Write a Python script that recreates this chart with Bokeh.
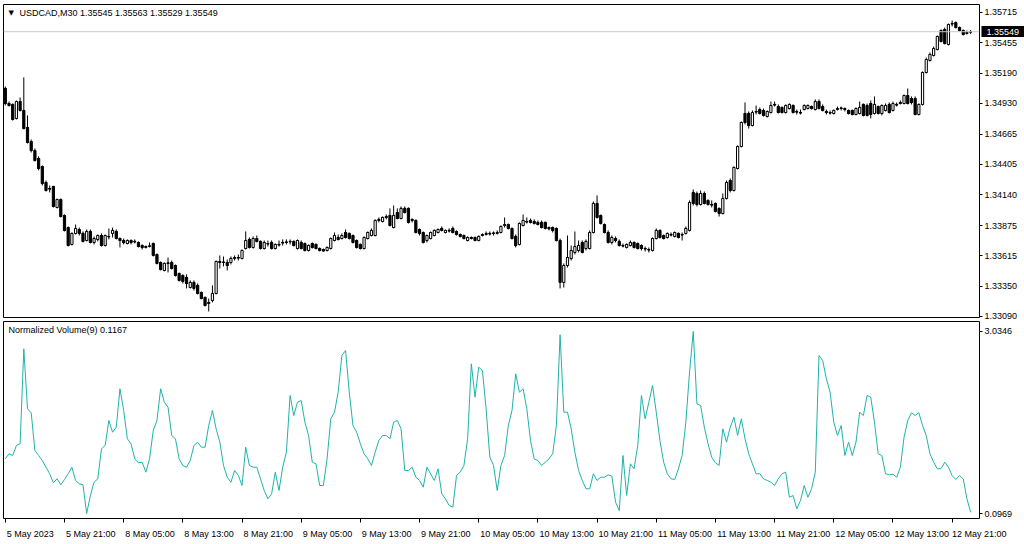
from bokeh.plotting import figure
from bokeh.models import (ColumnDataSource, Range1d, FixedTicker, PrintfTickFormatter, Span, Label,
                          LinearAxis, CustomJSTickFormatter)
from bokeh.layouts import column
from bokeh.embed import file_html
from bokeh.resources import INLINE

# USDCAD M30 candles, prices in units of 0.00001
open_pts = [135059,134929,134921,134800,134946,134869,134722,134601,134523,134454,
134385,134247,134195,134213,134031,134100,133962,133858,133712,133807,
133841,133807,133746,133824,133729,133755,133789,133703,133781,133807,
133824,133763,133746,133720,133746,133738,133729,133703,133686,133694,
133720,133625,133556,133487,133548,133556,133530,133461,133444,133427,
133340,133384,133358,133297,133254,133202,133228,133289,133565,133556,
133556,133556,133591,133599,133591,133677,133755,133686,133763,133738,
133677,133720,133729,133677,133712,133729,133729,133738,133738,133677,
133729,133720,133660,133720,133712,133677,133668,133660,133677,133746,
133772,133763,133815,133807,133789,133746,133712,133677,133763,133789,
133789,133919,133910,133945,133962,133858,133988,133936,134023,134023,
133928,133919,133841,133815,133746,133763,133789,133815,133850,133815,
133833,133850,133824,133798,133789,133746,133772,133772,133746,133789,
133798,133807,133807,133807,133815,133876,133884,133850,133781,133712,
133876,133910,133919,133910,133902,133902,133902,133858,133858,133850,
133746,133384,133530,133591,133643,133660,133729,133677,133677,133815,
134066,133962,133884,133815,133729,133763,133738,133703,133686,
133703,133729,133720,133703,133677,133668,133660,133763,133833,133789,
133772,133798,133781,133807,133798,133807,133833,134161,134152,134057,
134152,134092,134057,134066,134023,133979,134109,134264,134178,134368,
134558,134843,134843,134739,134860,134877,134869,134817,134851,134921,
134903,134895,134851,134886,134912,134860,134851,134877,134886,134903,
134877,134946,134903,134860,134851,134843,134877,134886,134886,
134869,134869,134834,134843,134921,134912,134929,134843,134903,134843,
134869,134921,134869,134921,134929,134929,134998,134972,134972,134834,
134921,135197,135301,135344,135396,135560,135568,135439,135620,135629,
135585,135560,135534,135545]

high_pts = [135076,134946,134929,134955,134981,135154,134826,134618,134541,134472,
134394,134264,134221,134213,134109,134109,133971,133867,133815,133884,
133858,133824,133841,133841,133781,133798,133807,133798,133850,133858,
133841,133772,133763,133755,133755,133755,133738,133712,133703,133729,
133729,133634,133565,133556,133599,133573,133539,133470,133453,133453,
133401,133401,133375,133306,133263,133245,133358,133573,133617,133608,
133582,133608,133617,133625,133668,133824,133772,133781,133789,133746,
133746,133746,133746,133720,133746,133755,133755,133755,133746,133755,
133746,133729,133712,133729,133720,133686,133677,133694,133772,133815,
133798,133807,133841,133815,133798,133755,133720,133781,133824,133850,
133928,133945,133953,133971,134023,134048,134023,134040,134040,134031,
133936,133928,133850,133824,133798,133824,133841,133850,133867,133841,
133850,133867,133833,133807,133798,133781,133781,133781,133789,133807,
133824,133824,133824,133833,133876,133945,133893,133858,133798,133902,
133971,133945,133936,133928,133919,133919,133910,133867,133867,133858,
133763,133548,133789,133703,133824,133746,133746,133755,133833,134083,
134135,133971,133893,133833,133789,133781,133755,133720,133720,
133746,133738,133729,133712,133694,133686,133772,133850,133841,133798,
133815,133815,133824,133815,133815,133867,134092,134187,134169,134178,
134169,134100,134092,134074,134031,134152,134264,134282,134385,134567,
134774,134938,134860,134869,134912,134895,134886,134869,134946,134946,
134921,134903,134921,134929,134921,134877,134877,134921,134921,134912,
134964,134964,134921,134877,134869,134877,134903,134903,134895,
134877,134877,134895,134946,134929,134929,134955,134990,134912,134921,
134929,134938,134946,134938,134955,135007,135059,134990,134990,134929,
135206,135326,135370,135421,135516,135568,135585,135620,135646,135637,
135594,135568,135560,135563]

low_pts = [134912,134903,134782,134791,134860,134705,134584,134506,134428,134351,
134221,134169,134161,134031,134023,133945,133824,133694,133703,133798,
133789,133729,133738,133720,133712,133738,133694,133694,133755,133772,
133755,133686,133712,133712,133712,133720,133686,133668,133677,133686,
133608,133539,133487,133479,133470,133496,133435,133392,133375,133332,
133332,133314,133280,133237,133176,133133,133211,133280,133504,133522,
133487,133539,133573,133573,133582,133668,133677,133677,133729,133668,
133668,133694,133668,133668,133694,133703,133712,133712,133694,133668,
133668,133651,133651,133677,133668,133651,133651,133651,133668,133738,
133746,133755,133763,133755,133720,133677,133668,133668,133755,133781,
133781,133902,133902,133928,133867,133850,133928,133928,133979,133893,
133902,133807,133789,133720,133729,133755,133781,133807,133824,133807,
133815,133807,133789,133772,133755,133738,133755,133738,133738,133781,
133789,133789,133789,133798,133807,133858,133841,133755,133686,133703,
133867,133893,133893,133884,133876,133850,133841,133833,133815,133738,
133332,133340,133513,133573,133625,133643,133634,133660,133668,133807,
133936,133884,133807,133720,133712,133729,133694,133686,133677,
133694,133677,133668,133660,133651,133643,133651,133755,133763,133755,
133763,133781,133772,133763,133746,133798,133824,134048,134040,134048,
134057,134048,134031,133988,133953,133971,134100,134161,134169,134359,
134549,134748,134713,134731,134834,134834,134817,134808,134843,134903,
134843,134843,134843,134877,134843,134834,134834,134869,134877,134877,
134869,134877,134860,134834,134834,134834,134869,134869,134860,
134834,134826,134826,134834,134817,134817,134800,134834,134834,134826,
134860,134843,134860,134903,134921,134921,134921,134921,134826,134826,
134912,135188,135292,135335,135387,135456,135439,135430,135594,135577,
135551,135516,135525,135529]

close_pts = [134929,134912,134791,134946,134869,134713,134592,134523,134437,134368,
134238,134178,134190,134040,134100,133953,133833,133703,133807,133850,
133807,133738,133824,133729,133763,133789,133703,133789,133778,133833,
133763,133746,133729,133746,133729,133735,133694,133686,133694,133700,
133617,133548,133496,133548,133552,133504,133444,133401,133392,133375,
133384,133332,133289,133245,133185,133211,133289,133565,133556,133560,
133530,133591,133599,133595,133660,133746,133686,133763,133738,133677,
133729,133716,133677,133712,133708,133725,133733,133735,133703,133746,
133677,133660,133703,133686,133677,133660,133656,133686,133763,133789,
133755,133789,133772,133763,133729,133686,133677,133772,133815,133833,
133919,133928,133945,133953,133876,133962,133936,134023,133988,133902,
133919,133815,133807,133729,133789,133815,133833,133841,133833,133833,
133829,133815,133798,133781,133763,133772,133763,133746,133781,133798,
133807,133803,133810,133815,133867,133884,133850,133763,133703,133893,
133919,133906,133902,133893,133884,133858,133850,133848,133833,133746,
133384,133530,133599,133660,133694,133703,133643,133738,133815,134066,
133945,133893,133815,133729,133772,133746,133703,133699,133712,
133729,133686,133677,133677,133673,133664,133763,133833,133772,133763,
133807,133794,133815,133772,133794,133850,134074,134066,134057,134152,
134066,134057,134053,133997,133979,134109,134247,134178,134377,134558,
134765,134765,134739,134851,134856,134843,134826,134860,134912,134916,
134851,134851,134912,134921,134851,134855,134847,134912,134912,134886,
134946,134886,134869,134851,134847,134869,134886,134890,134877,
134843,134834,134886,134895,134826,134826,134834,134921,134843,134912,
134912,134851,134929,134916,134938,134998,134929,134938,134834,134921,
135197,135309,135352,135404,135508,135465,135447,135611,135616,135585,
135560,135525,135542,135549]

# Normalized Volume(9)
norm_volume = [0.980,1.061,1.033,1.195,1.222,2.755,1.787,1.722,1.114,1.033,
0.952,0.844,0.738,0.592,0.657,0.560,0.646,0.738,0.844,0.630,
0.576,0.560,0.0969,0.387,0.602,0.657,1.141,1.195,1.598,1.409,
1.490,2.110,1.760,1.303,1.222,0.980,0.915,0.925,0.764,0.980,
1.437,1.598,2.110,1.893,1.813,1.356,1.303,0.980,0.872,0.844,
0.952,1.195,1.248,1.167,1.167,1.517,1.760,1.464,1.248,0.872,
0.683,0.602,0.791,0.710,0.549,1.167,0.872,0.844,0.844,0.657,
0.468,0.334,0.415,0.764,0.468,0.844,1.086,2.002,1.679,1.893,
1.921,1.571,1.356,0.925,0.899,0.549,0.549,0.980,1.625,1.732,
2.055,2.647,2.728,2.055,1.517,1.409,1.222,1.061,0.980,0.872,
1.086,1.275,1.356,1.356,1.303,1.571,1.598,1.464,0.791,0.791,
0.844,0.683,0.630,0.521,0.844,0.738,0.630,0.818,0.415,0.334,
0.226,0.199,0.710,0.764,0.872,1.303,2.513,1.974,2.458,2.405,
1.787,1.006,0.872,0.468,0.872,1.033,1.517,1.760,2.352,2.055,
2.110,1.787,1.275,0.980,0.952,0.872,0.925,0.980,1.061,1.517,
2.981,1.732,1.732,1.464,1.086,0.791,0.630,0.496,0.496,0.738,
0.630,0.683,0.683,0.720,0.700,0.279,0.145,1.033,0.387,
0.899,0.818,1.195,2.002,1.625,1.893,2.163,1.732,1.275,0.925,
0.738,0.657,0.646,0.818,1.033,1.571,2.378,3.0346,1.868,1.840,
1.490,1.222,1.006,0.915,0.872,1.464,1.248,1.490,1.651,1.356,
1.625,1.303,1.061,0.899,0.738,0.740,0.657,0.630,0.602,0.549,
0.657,0.738,0.764,0.360,0.387,0.173,0.307,0.549,0.360,0.496,
0.764,2.647,2.567,2.271,2.055,1.571,1.356,1.517,1.033,
1.248,1.033,1.248,1.732,1.679,2.002,1.974,1.571,1.061,1.033,
0.738,0.722,0.730,0.683,0.844,1.329,1.598,1.722,1.679,1.722,
1.517,1.356,1.061,0.925,0.818,0.820,0.925,0.844,0.710,0.646,
0.710,0.657,0.334,0.1167]

time_ticks = [0, 16, 32, 48, 64, 80, 96, 112, 128, 144, 160, 176, 192, 208, 224, 240, 256]
time_labels = ["5 May 2023", "5 May 21:00", "8 May 05:00", "8 May 13:00", "8 May 21:00",
               "9 May 05:00", "9 May 13:00", "9 May 21:00", "10 May 05:00", "10 May 13:00",
               "10 May 21:00", "11 May 05:00", "11 May 13:00", "11 May 21:00", "12 May 05:00",
               "12 May 13:00", "12 May 21:00"]
price_ticks = [1.35715, 1.35455, 1.35190, 1.34930, 1.34665, 1.34405, 1.34140,
               1.33875, 1.33615, 1.33350, 1.33090]
vol_ticks = [3.0346, 0.0969]
last_price = 1.35549
title_main = "USDCAD,M30  1.35545 1.35563 1.35529 1.35549"
title_vol = "Normalized Volume(9) 0.1167"

FONT = "Liberation Sans"
FS = "9px"
FONT_PX = 9
# Liberation Sans advance widths (per 1000 em), used to left-align time labels
ADV = {" ": 278, ":": 278, "M": 833, "a": 556, "y": 500}

def text_px(s):
    return sum(ADV.get(ch, 556) for ch in s) * FONT_PX / 1000.0

o = [v / 1e5 for v in open_pts]
h = [v / 1e5 for v in high_pts]
l = [v / 1e5 for v in low_pts]
c = [v / 1e5 for v in close_pts]
x = list(range(len(c)))
up = [i for i in x if c[i] >= o[i]]
dn = [i for i in x if c[i] < o[i]]

W = 1024
LEFT, RIGHT = 3, 45
FRAME_W = W - LEFT - RIGHT
xr = Range1d(-0.49, 263.4)
bar_px = FRAME_W / (xr.end - xr.start)

p1 = figure(width=W, height=320, output_backend="svg", toolbar_location=None, tools="",
            x_range=xr, y_range=Range1d(1.33081, 1.35784),
            x_axis_location=None, y_axis_location="right",
            min_border_left=LEFT, min_border_right=RIGHT, min_border_top=4, min_border_bottom=3)
p2 = figure(width=W, height=224, output_backend="svg", toolbar_location=None, tools="",
            x_range=xr, y_range=Range1d(0.0162, 3.196),
            x_axis_location="below", y_axis_location="right",
            min_border_left=LEFT, min_border_right=RIGHT, min_border_top=1, min_border_bottom=26)

for p in (p1, p2):
    p.xgrid.visible = False
    p.ygrid.visible = False
    p.background_fill_color = "white"
    p.border_fill_color = "white"
    p.outline_line_color = "#000000"
    p.outline_line_width = 1
    ax = p.yaxis[0]
    ax.axis_line_color = None
    ax.major_tick_out = 3
    ax.major_tick_in = 0
    ax.minor_tick_out = 0
    ax.minor_tick_in = 0
    ax.major_tick_line_color = "black"
    ax.major_label_standoff = 2
    ax.major_label_text_font = FONT
    ax.major_label_text_font_size = FS
    ax.major_label_text_color = "black"

p1.yaxis[0].ticker = FixedTicker(ticks=price_ticks)
p1.yaxis[0].formatter = PrintfTickFormatter(format="%.5f")
p2.yaxis[0].ticker = FixedTicker(ticks=vol_ticks)
p2.yaxis[0].formatter = PrintfTickFormatter(format="%.4f")

# current-price marker: a second right axis whose single thick tick forms the black box
box_ax = LinearAxis(ticker=FixedTicker(ticks=[last_price]),
                    formatter=PrintfTickFormatter(format="%.5f"))
box_ax.axis_line_color = None
box_ax.major_tick_in = 39
box_ax.major_tick_out = 4
box_ax.major_tick_line_width = 11
box_ax.major_tick_line_color = "black"
box_ax.minor_tick_in = 0
box_ax.minor_tick_out = 0
box_ax.major_label_standoff = -38
box_ax.major_label_text_color = "white"
box_ax.major_label_text_font = FONT
box_ax.major_label_text_font_size = FS
p1.add_layout(box_ax, "right")

# time axis: tick marks at the bars (minor ticks), labels placed so they start at the mark
label_pos = [min(t + (text_px(s) / 2.0 + 1.5) / bar_px, xr.end - 0.05)
             for t, s in zip(time_ticks, time_labels)]
xa = p2.xaxis[0]
xa.ticker = FixedTicker(ticks=label_pos, minor_ticks=time_ticks)
xa.formatter = CustomJSTickFormatter(args=dict(labels=time_labels),
                                     code="return labels[Math.floor(tick / 16)];")
xa.axis_line_color = None
xa.major_tick_out = 0
xa.major_tick_in = 0
xa.minor_tick_out = 4
xa.minor_tick_in = 0
xa.minor_tick_line_color = "black"
xa.major_label_standoff = 6
xa.major_label_text_font = FONT
xa.major_label_text_font_size = FS
xa.major_label_text_color = "black"

# bid line
p1.add_layout(Span(location=last_price, dimension="width", line_color="#c8c8c8", line_width=1))

src = ColumnDataSource(dict(x=x, o=o, h=h, l=l, c=c,
                            xl=[i - 0.3 for i in x], xr=[i + 0.3 for i in x]))
p1.segment(x0="x", y0="h", x1="x", y1="l", source=src, line_color="black", line_width=1)
p1.segment(x0="xl", y0="c", x1="xr", y1="c", source=src, line_color="black", line_width=1)
p1.segment(x0="xl", y0="o", x1="xr", y1="o", source=src, line_color="black", line_width=1)
src_up = ColumnDataSource(dict(x=up, top=[c[i] for i in up], bottom=[o[i] for i in up]))
src_dn = ColumnDataSource(dict(x=dn, top=[o[i] for i in dn], bottom=[c[i] for i in dn]))
p1.vbar(x="x", width=0.6, top="top", bottom="bottom", source=src_up,
        fill_color="white", line_color="black", line_width=1)
p1.vbar(x="x", width=0.6, top="top", bottom="bottom", source=src_dn,
        fill_color="black", line_color="black", line_width=1)

p1.add_layout(Label(x=5, y=305, x_units="screen", y_units="screen", text="\u25bc",
                    text_font="DejaVu Sans", text_font_size="7px", text_color="black",
                    text_baseline="middle"))
p1.add_layout(Label(x=16, y=305, x_units="screen", y_units="screen", text=title_main,
                    text_font=FONT, text_font_size=FS, text_color="black",
                    text_baseline="middle"))

p2.line(x, norm_volume, line_color="#20B2AA", line_width=1)
p2.add_layout(Label(x=5, y=189, x_units="screen", y_units="screen", text=title_vol,
                    text_font=FONT, text_font_size=FS, text_color="black",
                    text_baseline="middle"))

layout = column(p1, p2, spacing=0)
open("out.html", "w").write(file_html(layout, INLINE))
